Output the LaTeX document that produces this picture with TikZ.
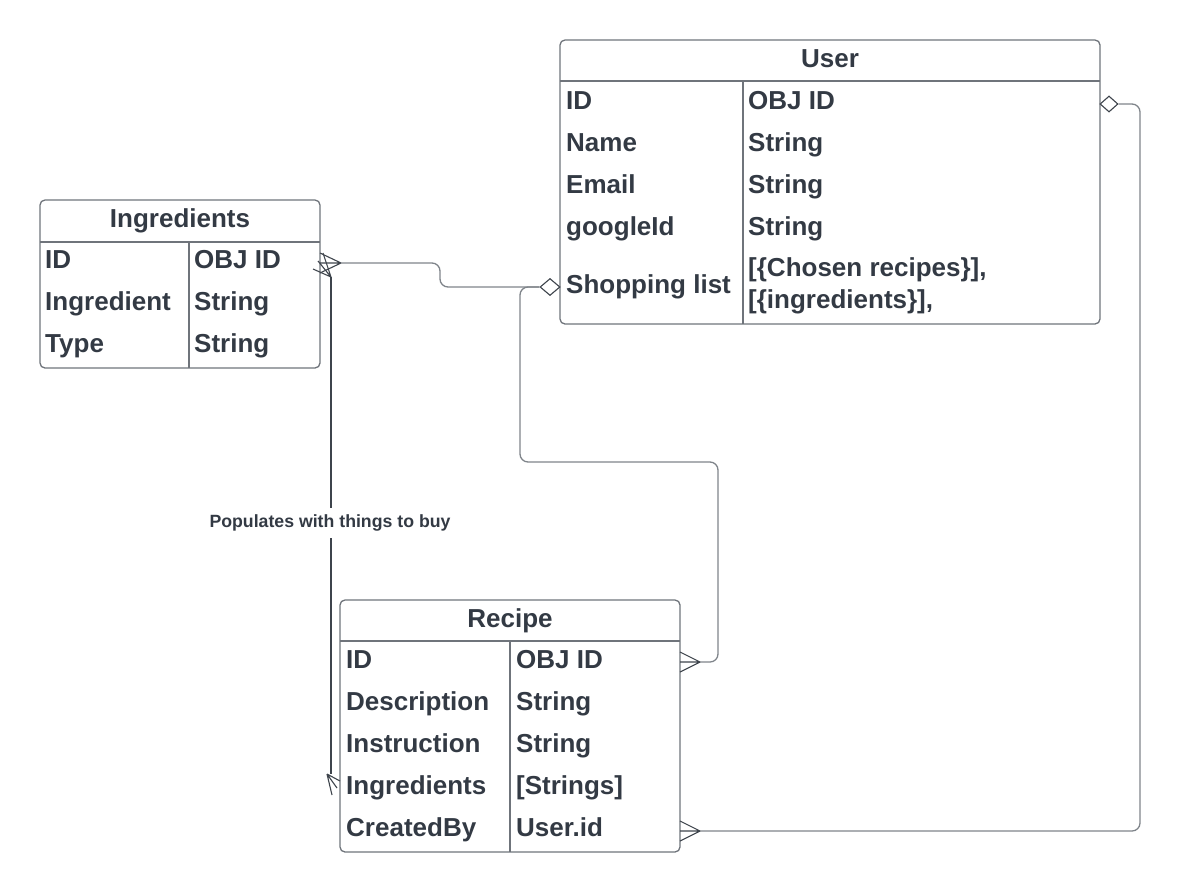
\documentclass[tikz,border=0pt]{standalone}
\usepackage{fontspec}
\setmainfont{Liberation Sans}
\usetikzlibrary{shapes.geometric,positioning,calc}
\definecolor{boxgray}{HTML}{6F747B}
\definecolor{linegray}{HTML}{7F848A}
\definecolor{inkdark}{HTML}{333A44}
\definecolor{footdark}{HTML}{3E444C}
\tikzset{
  entity/.style={draw=boxgray, line width=1.3pt, rounded corners=5pt, inner sep=0pt},
  title/.style={anchor=base, font=\fontsize{26}{30}\selectfont\bfseries, text=inkdark, inner sep=0pt},
  field/.style={anchor=base west, font=\fontsize{26}{30}\selectfont\bfseries, text=inkdark, inner sep=0pt},
  rule/.style={draw=boxgray, line width=1.3pt},
  conn/.style={draw=linegray, line width=1.3pt, rounded corners=8pt},
  foot/.style={draw=footdark, line width=1.1pt},
  link/.style={draw=footdark, line width=1.5pt},
  agg/.style={diamond, draw=footdark, fill=white, line width=1.1pt, minimum width=20pt, minimum height=17pt, inner sep=0pt},
  note/.style={font=\fontsize{17.7}{21}\selectfont\bfseries, text=inkdark, fill=white, inner xsep=2pt, inner ysep=7pt}
}
\begin{document}
\begin{tikzpicture}[x=1pt, y=-1pt]
    \useasboundingbox (0,0) rectangle (1180,892);

    % Ingredients
    \node [entity, minimum width=280pt, minimum height=168pt] (ingredients) at (180,284) {};
    \draw [rule] (40,242) -- (320,242);
    \draw [rule] (189,242) -- (189,368);
    \node [title] (ingTitle) at (180,227) {Ingredients};
    \node [field] (ingIdKey) at (45,268) {ID};
    \node [field] (ingIdVal) at (194,268) {OBJ ID};
    \node [field] (ingNameKey) at (45,310) {Ingredient};
    \node [field] (ingNameVal) at (194,310) {String};
    \node [field] (ingTypeKey) at (45,352) {Type};
    \node [field] (ingTypeVal) at (194,352) {String};

    % User
    \node [entity, minimum width=540pt, minimum height=284pt] (user) at (830,182) {};
    \draw [rule] (560,81) -- (1100,81);
    \draw [rule] (743,81) -- (743,324);
    \node [title] (userTitle) at (830,67) {User};
    \node [field] (userIdKey) at (566,109) {ID};
    \node [field] (userIdVal) at (748,109) {OBJ ID};
    \node [field] (userNameKey) at (566,151) {Name};
    \node [field] (userNameVal) at (748,151) {String};
    \node [field] (userMailKey) at (566,193) {Email};
    \node [field] (userMailVal) at (748,193) {String};
    \node [field] (userGoogleKey) at (566,235) {googleId};
    \node [field] (userGoogleVal) at (748,235) {String};
    \node [field] (userShopKey) at (566,293) {Shopping list};
    \node [field] (userShopVal1) at (748,276) {[\{Chosen recipes\}],};
    \node [field] (userShopVal2) at (748,308) {[\{ingredients\}],};

    % Recipe
    \node [entity, minimum width=340pt, minimum height=252pt] (recipe) at (510,726) {};
    \draw [rule] (340,641) -- (680,641);
    \draw [rule] (510,641) -- (510,852);
    \node [title] (recTitle) at (510,627) {Recipe};
    \node [field] (recIdKey) at (346,668) {ID};
    \node [field] (recIdVal) at (516,668) {OBJ ID};
    \node [field] (recDescKey) at (346,710) {Description};
    \node [field] (recDescVal) at (516,710) {String};
    \node [field] (recInstKey) at (346,752) {Instruction};
    \node [field] (recInstVal) at (516,752) {String};
    \node [field] (recIngKey) at (346,794) {Ingredients};
    \node [field] (recIngVal) at (516,794) {[Strings]};
    \node [field] (recByKey) at (346,836) {CreatedBy};
    \node [field] (recByVal) at (516,836) {User.id};

    % connector ends
    \coordinate (ingFoot) at (341,263);
    \coordinate (recIdFoot) at (700,662);
    \coordinate (recByFoot) at (700,831);
    \coordinate (popTop) at (331,277);
    \coordinate (popBot) at (327,774);
    \node [agg] (shopAgg) at (550,287) {};
    \node [agg, minimum width=18pt, minimum height=16pt] (userAgg) at (1109,104) {};

    % shopping list links
    \draw [conn] (ingFoot) -- ++(99,0) |- (shopAgg.west);
    \draw [conn] (shopAgg.west) -| (520,462) -| (718,662) -- (recIdFoot);
    \draw [conn] (recByFoot) -| (1140,104) -- (userAgg.east);

    % crow's feet
    \draw [foot] (ingFoot) -- ++(-21,-10) (ingFoot) -- ++(-21,0) (ingFoot) -- ++(-21,10);
    \draw [foot] (recIdFoot) -- ++(-20,-10) (recIdFoot) -- ++(-20,0) (recIdFoot) -- ++(-20,10);
    \draw [foot] (recByFoot) -- ++(-20,-10) (recByFoot) -- ++(-20,0) (recByFoot) -- ++(-20,10);
    \draw [foot] (popTop) -- ++(-18,-8) (popTop) -- ++(-13,-16) (popTop) -- ++(-8,-24);
    \draw [foot] (popBot) -- ++(13,7) (popBot) -- ++(10,14) (popBot) -- ++(5,21);

    % ingredients to buy
    \node [note] (populates) at (330,523) {Populates with things to buy};
    \draw [link] (popTop) -- (popTop |- populates.north);
    \draw [link] (popTop |- populates.south) -- (popTop |- popBot);
\end{tikzpicture}
\end{document}
